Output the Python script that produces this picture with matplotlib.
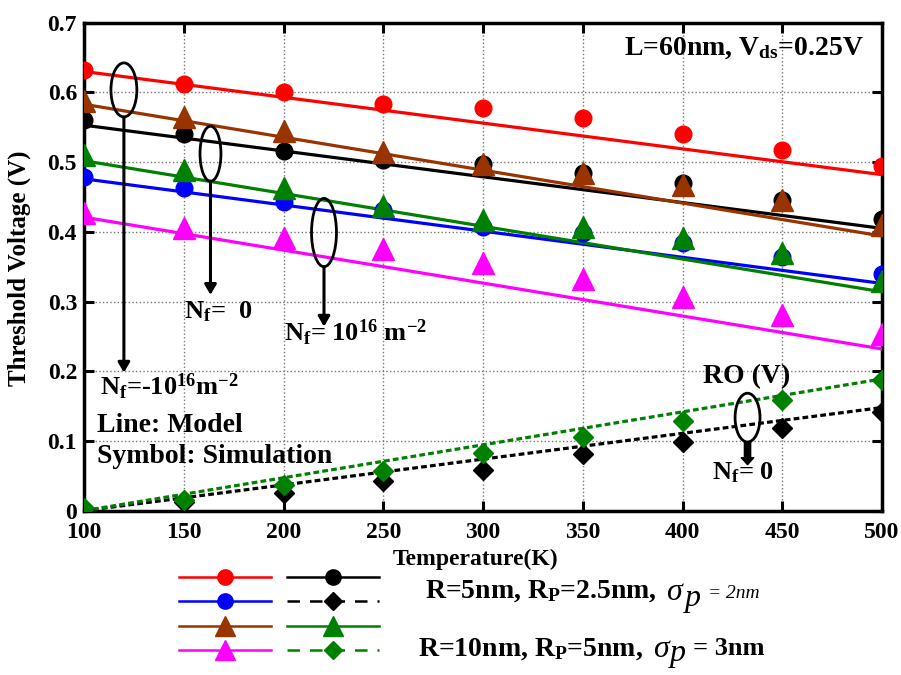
import numpy as np
import matplotlib
matplotlib.use("Agg")
import matplotlib.pyplot as plt
from matplotlib.patches import Ellipse
from matplotlib.lines import Line2D

plt.rcParams['font.family'] = ['Liberation Serif', 'DejaVu Serif']
plt.rcParams['font.weight'] = 'bold'
plt.rcParams['mathtext.fontset'] = 'custom'
plt.rcParams['mathtext.rm'] = 'Liberation Serif:bold'
plt.rcParams['mathtext.bf'] = 'Liberation Serif:bold'
plt.rcParams['mathtext.it'] = 'Liberation Serif:italic'

# temperature sweep (K)
T = [100, 150, 200, 250, 300, 350, 400, 450, 500]
T_ends = [100, 500]

# simulated threshold voltage (V)
red_sim = [0.632, 0.612, 0.600, 0.584, 0.577, 0.563, 0.540, 0.517, 0.494]
black_sim = [0.560, 0.540, 0.516, 0.503, 0.497, 0.484, 0.470, 0.446, 0.418]
blue_sim = [0.478, 0.463, 0.443, 0.431, 0.407, 0.398, 0.384, 0.364, 0.340]
brown_sim = [0.587, 0.565, 0.544, 0.515, 0.498, 0.484, 0.467, 0.446, 0.410]
green_sim = [0.510, 0.489, 0.463, 0.437, 0.417, 0.407, 0.391, 0.369, 0.329]
magenta_sim = [0.427, 0.405, 0.391, 0.376, 0.355, 0.333, 0.306, 0.281, 0.254]
ro_black_sim = [0.003, 0.012, 0.025, 0.042, 0.058, 0.081, 0.098, 0.118, 0.141]
ro_green_sim = [0.004, 0.015, 0.037, 0.057, 0.083, 0.106, 0.129, 0.159, 0.187]

# model (linear in T)
red_mod = [0.630, 0.482]
black_mod = [0.553, 0.405]
blue_mod = [0.476, 0.326]
brown_mod = [0.583, 0.394]
green_mod = [0.502, 0.314]
magenta_mod = [0.421, 0.232]
ro_black_mod = [0.0, 0.148]
ro_green_mod = [0.0, 0.189]

RED, BLUE, BROWN = '#ff0000', '#0000ff', '#993300'
GREEN, MAG, BLK = '#008000', '#ff00ff', '#000000'
dots = (0, (1.8, 1.0))

W, H = 901, 675
fig = plt.figure(figsize=(W / 100, H / 100), dpi=100)
ax = fig.add_axes([84 / W, 1 - 510.7 / H, 798 / W, 488 / H])

lw = 2.3
series = [
    (red_mod, red_sim, RED, 'o', 12, '-'),
    (black_mod, black_sim, BLK, 'o', 12, '-'),
    (blue_mod, blue_sim, BLUE, 'o', 12, '-'),
    (brown_mod, brown_sim, BROWN, '^', 15.5, '-'),
    (green_mod, green_sim, GREEN, '^', 15.5, '-'),
    (magenta_mod, magenta_sim, MAG, '^', 15.5, '-'),
    (ro_black_mod, ro_black_sim, BLK, 'D', 10, dots),
    (ro_green_mod, ro_green_sim, GREEN, 'D', 10, dots),
]
for mod, sim, c, m, ms, ls in series:
    ax.plot(T_ends, mod, color=c, lw=lw, ls=ls, zorder=3)
    ax.plot(T, sim, ls='none', marker=m, ms=ms, color=c, mec=c, zorder=4)

ax.set_xlim(100, 500)
ax.set_ylim(0, 0.7)
ax.set_xticks(np.arange(100, 501, 50))
ax.set_yticks(np.arange(0, 0.71, 0.1))
ax.set_yticklabels(['0', '0.1', '0.2', '0.3', '0.4', '0.5', '0.6', '0.7'])
ax.tick_params(direction='in', length=7, width=2.2, labelsize=17,
               top=True, right=True)
ax.tick_params(axis='x', pad=8)
ax.tick_params(axis='y', pad=5)
ax.grid(True, color='#777777', ls=':', lw=1.0)
for s in ax.spines.values():
    s.set_linewidth(2.5)
ax.set_xlabel('Temperature(K)', fontsize=17, fontweight='bold')
ax.xaxis.set_label_coords(0.49, -0.078)
ax.set_ylabel('Threshold Voltage (V)', fontsize=18, fontweight='bold')
ax.yaxis.set_label_coords(-0.066, 0.496)

# grouping ellipses with arrows
def group(xc, yc, w, h, y_tip, label, tx, ty):
    ax.add_patch(Ellipse((xc, yc), w, h, fill=False, lw=2, ec='k', zorder=5))
    ax.annotate('', xy=(xc, y_tip), xytext=(xc, yc - h / 2),
                arrowprops=dict(arrowstyle='-|>,head_length=0.6,head_width=0.35',
                                lw=2.2, color='k', shrinkA=0, shrinkB=0), zorder=5)
    ax.text(tx, ty, label, fontsize=19, ha='left', va='center', zorder=6)

group(120, 0.6036, 13, 0.0775, 0.198, r'N$_\mathrm{f}$=-10$^{16}$m$^{-2}$', 108, 0.178)
group(163.4, 0.512, 10.5, 0.079, 0.3096, r'N$_\mathrm{f}$=  0', 150, 0.2855)
group(220.3, 0.399, 12.5, 0.098, 0.264, r'N$_\mathrm{f}$= 10$^{16}$ m$^{-2}$', 200, 0.255)

ax.add_patch(Ellipse((432.6, 0.1335), 12.5, 0.070, fill=False, lw=2, ec='k', zorder=5))
ax.annotate('', xy=(432.6, 0.066), xytext=(432.6, 0.0985),
            arrowprops=dict(arrowstyle='simple,head_length=0.5,head_width=0.9,tail_width=0.45',
                            color='k', shrinkA=0, shrinkB=0), zorder=5)
ax.text(432.0, 0.192, 'RO (V)', fontsize=20, ha='center', va='center')
ax.text(430.5, 0.054, r'N$_\mathrm{f}$= 0', fontsize=19, ha='center', va='center')

ax.text(491, 0.663, r'L=60nm, V$_\mathrm{ds}$=0.25V', fontsize=20, ha='right', va='center')
ax.text(106.5, 0.122, 'Line: Model', fontsize=20, ha='left', va='center')
ax.text(106.5, 0.078, 'Symbol: Simulation', fontsize=20, ha='left', va='center')

# legend samples below the axes
handles = [
    Line2D([], [], color=RED, marker='o', ms=11, lw=1.8),
    Line2D([], [], color=BLUE, marker='o', ms=11, lw=1.8),
    Line2D([], [], color=BROWN, marker='^', ms=15, lw=1.8),
    Line2D([], [], color=MAG, marker='^', ms=15, lw=1.8),
    Line2D([], [], color=BLK, marker='o', ms=11, lw=1.8),
    Line2D([], [], color=BLK, marker='D', ms=9, lw=1.8, ls=(0, (5, 4))),
    Line2D([], [], color=GREEN, marker='^', ms=15, lw=1.8),
    Line2D([], [], color=GREEN, marker='D', ms=9, lw=1.8, ls=(0, (5, 4))),
]
fig.legend(handles, [''] * 8, ncol=2, loc='upper left',
           bbox_to_anchor=(179 / W, 1 - 570.7 / H), frameon=False,
           handlelength=5.5, handletextpad=0, columnspacing=1.0,
           labelspacing=0.51, borderpad=0, borderaxespad=0, fontsize=12,
           numpoints=1)

# parameter sets next to the legend samples
def fig_text(x, y, s, **kw):
    fig.text(x / W, 1 - y / H, s, ha='left', va='baseline', **kw)

fig_text(425, 598, r'R=5nm, R$_\mathrm{P}$=2.5nm,', fontsize=20)
fig_text(666, 600, 'σ', fontsize=23, style='italic', fontweight='normal')
fig_text(685, 606, 'p', fontsize=23, style='italic', fontweight='normal')
fig_text(708, 598, '= 2nm', fontsize=14, style='italic', fontweight='normal')

fig_text(418, 656, r'R=10nm, R$_\mathrm{P}$=5nm,', fontsize=20)
fig_text(653, 657, 'σ', fontsize=23, style='italic', fontweight='normal')
fig_text(670, 661, 'p', fontsize=23, style='italic', fontweight='normal')
fig_text(693, 655, '= 3nm', fontsize=19)

fig.savefig('out.png', dpi=100)
